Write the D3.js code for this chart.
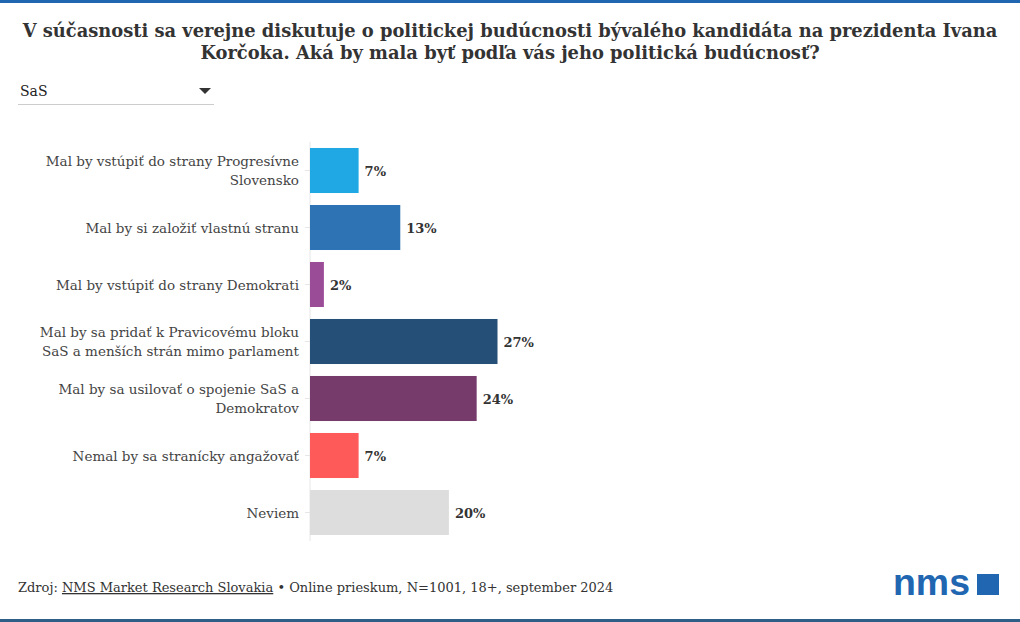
<!DOCTYPE html>
<html><head><meta charset="utf-8">
<script src="https://cdn.jsdelivr.net/npm/d3@7"></script>
<style>
body{margin:0;background:#fff;}
svg{display:block;font-family:"DejaVu Serif",serif;}
</style></head>
<body><svg id="c" width="1020" height="622"></svg>
<script>
const categories = [
  ["Mal by vstúpiť do strany Progresívne","Slovensko"],
  ["Mal by si založiť vlastnú stranu"],
  ["Mal by vstúpiť do strany Demokrati"],
  ["Mal by sa pridať k Pravicovému bloku","SaS a menších strán mimo parlament"],
  ["Mal by sa usilovať o spojenie SaS a","Demokratov"],
  ["Nemal by sa stranícky angažovať"],
  ["Neviem"]
];
const values = [7, 13, 2, 27, 24, 7, 20];
const colors = ["#1fa8e3","#2e73b4","#9a4c96","#254f77","#763b6b","#ff5a5a","#dddddd"];
const titleLines = ["V súčasnosti sa verejne diskutuje o politickej budúcnosti bývalého kandidáta na prezidenta Ivana","Korčoka. Aká by mala byť podľa vás jeho politická budúcnosť?"];
const filterLabel = "SaS";

const svg = d3.select("#c");
svg.append("rect").attr("x",0).attr("y",0).attr("width",1020).attr("height",3).attr("fill","#2166b0");
svg.append("rect").attr("x",0).attr("y",619).attr("width",1020).attr("height",3).attr("fill","#2f5f86");

const t = svg.append("text").attr("text-anchor","middle").attr("font-weight","bold")
  .attr("font-size",20).attr("fill","#333");
const spans = titleLines.map((l,i)=>t.append("tspan").attr("x",510).attr("y",37+i*22).text(l));
const w0 = spans[0].node().getComputedTextLength();
t.attr("font-size", Math.min(20, 20*975/w0));

// dropdown
svg.append("text").attr("x",20).attr("y",96).attr("font-size",14).attr("fill","#222").text(filterLabel);
svg.append("path").attr("d","M199,88 L211,88 L205,94 Z").attr("fill","#333");
svg.append("line").attr("x1",18).attr("x2",214).attr("y1",104.5).attr("y2",104.5).attr("stroke","#ccc");

const x0 = 310;
const x = d3.scaleLinear().domain([0,27]).range([x0, 497.5]);
const y = d3.scaleBand().domain(d3.range(values.length)).range([142,541]).paddingInner(0.21).paddingOuter(0.105);

const yAxis = d3.axisLeft(y).tickSize(5).tickFormat("");
const ga = svg.append("g").attr("transform",`translate(${x0},0)`).call(yAxis);
ga.select(".domain").attr("stroke","#e6e6e6").attr("d",`M0,${y.range()[0]}V${y.range()[1]}`);
ga.selectAll(".tick line").attr("stroke","#e6e6e6");

svg.selectAll("rect.bar").data(values).join("rect").attr("class","bar")
  .attr("x",x(0)).attr("y",(d,i)=>y(i)).attr("width",d=>x(d)-x(0)).attr("height",y.bandwidth())
  .attr("fill",(d,i)=>colors[i]);

svg.selectAll("text.val").data(values).join("text").attr("class","val")
  .attr("x",d=>x(d)+6).attr("y",(d,i)=>y(i)+y.bandwidth()/2+5)
  .attr("font-size",13).attr("font-weight","bold").attr("fill","#333").text(d=>d+"%");

categories.forEach((lines,i)=>{
  const cy = y(i)+y.bandwidth()/2;
  const tx = svg.append("text").attr("text-anchor","end").attr("font-size",13.5).attr("fill","#444");
  const n = lines.length;
  lines.forEach((l,j)=>tx.append("tspan").attr("x",299).attr("y",cy+5+(j-(n-1)/2)*19).text(l));
});

// footer
const f = svg.append("text").attr("x",18).attr("y",592).attr("font-size",13).attr("fill","#333");
f.append("tspan").text("Zdroj: ");
f.append("tspan").attr("text-decoration","underline").text("NMS Market Research Slovakia");
f.append("tspan").text(" • Online prieskum, N=1001, 18+, september 2024");

svg.append("text").attr("x",893).attr("y",595).attr("font-family","Liberation Sans, Arial, sans-serif")
  .attr("font-weight","bold").attr("font-size",36).attr("fill","#2166b0")
  .attr("textLength",77).attr("lengthAdjust","spacingAndGlyphs").text("nms");
svg.append("rect").attr("x",977).attr("y",574).attr("width",22).attr("height",21).attr("fill","#2166b0");
</script></body></html>
